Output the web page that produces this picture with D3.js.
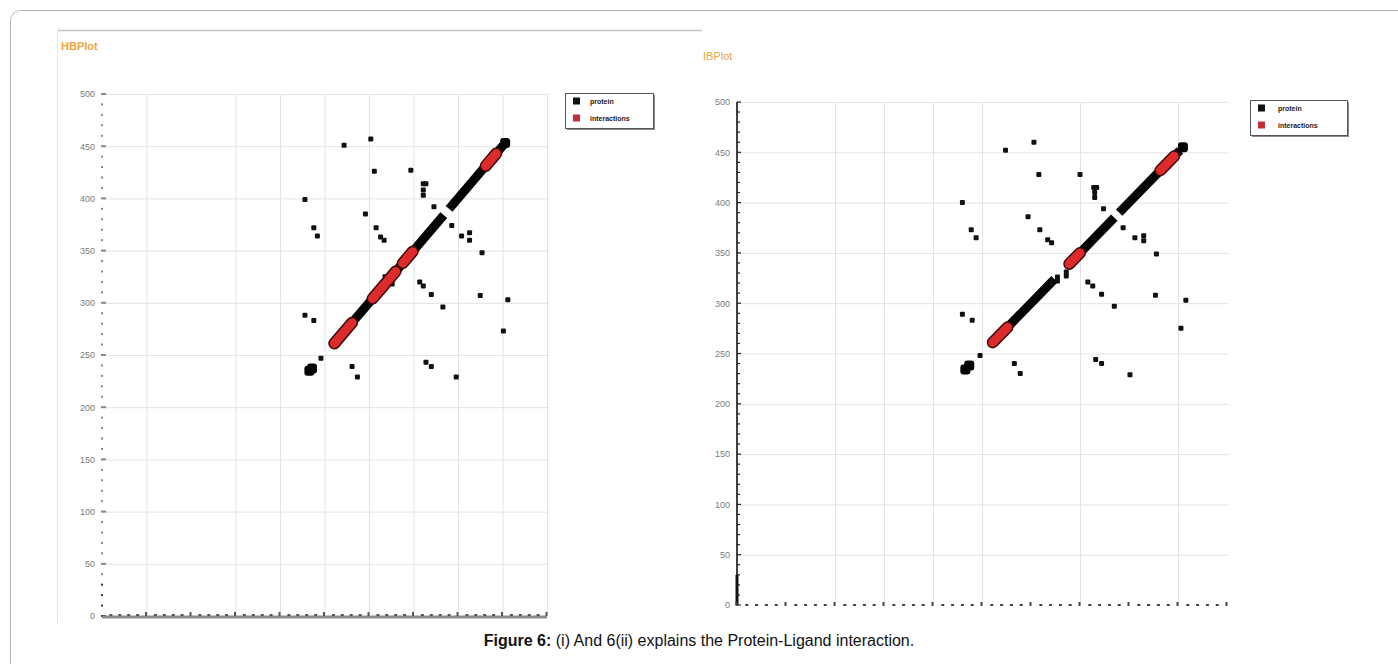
<!DOCTYPE html>
<html>
<head>
<meta charset="utf-8">
<script src="https://cdn.jsdelivr.net/npm/d3@7"></script>
<style>
  body { margin: 0; background: #fff; }
</style>
</head>
<body>
<div id="fig"></div>
<script>
// tick labels shared by both plots (no labels on x)
const tickValues = [0, 50, 100, 150, 200, 250, 300, 350, 400, 450, 500];
const seriesNames = ['protein', 'interactions'];

// HBPlot (left): off-diagonal contacts [residue i, residue j]
const hbProtein = [[272,451],[302,457],[306,426],[347,427],[361,414],[364,414],[361,408],[361,403],
  [228,399],[373,392],[296,385],[308,372],[238,372],[242,364],[313,363],[317,360],[393,374],
  [404,364],[413,367],[413,360],[427,348],[357,320],[361,316],[370,308],[425,307],[456,303],
  [383,296],[228,288],[238,283],[451,273],[246,247],[281,239],[287,229],[364,243],[370,239],[398,229],
  [318,325],[326,318]];
const hbBlobs = [[233,235],[236,237],[453,453]];
const hbDiagonal = [[259,319],[323,384],[390,451]];
const hbInteractions = [[261,281],[304,318],[321,330],[338,349],[431,443]];
const hbGridX = [50, 150, 200, 250, 300, 350, 400, 450, 500];

// IBPlot (right)
const ibProtein = [[274,452],[303,460],[308,428],[350,428],[364,415],[367,415],[365,410],[365,405],
  [230,400],[374,394],[297,386],[309,373],[239,373],[244,365],[317,363],[321,360],[394,375],
  [406,365],[415,367],[415,362],[428,349],[358,321],[363,317],[372,309],[427,308],[458,303],
  [385,297],[230,289],[240,283],[453,275],[248,248],[283,240],[289,230],[366,244],[372,240],[401,229],
  [321,320],[327,322],[327,326],[336,327],[336,331]];
const ibBlobs = [[233,234],[237,238],[455,455]];
const ibDiagonal = [[259,324],[337,385],[390,452]];
const ibInteractions = [[261,276],[339,350],[432,446]];
const ibGridX = [100, 150, 200, 250, 350, 450];

const W = 1398, H = 664;
const svg = d3.select('#fig').append('svg')
  .attr('width', W).attr('height', H)
  .style('font-family', 'Arial, "Liberation Sans", sans-serif');

// outer page frame
svg.append('rect')
  .attr('x', 10.5).attr('y', 10.5).attr('width', 1420).attr('height', 700)
  .attr('rx', 10).attr('fill', 'none').attr('stroke', '#b5b5b5');

// left screenshot border
svg.append('line').attr('x1', 57).attr('x2', 702).attr('y1', 30.5).attr('y2', 30.5)
  .attr('stroke', '#c4c4c4').attr('stroke-width', 1.5);
svg.append('line').attr('x1', 57.5).attr('x2', 57.5).attr('y1', 30).attr('y2', 623)
  .attr('stroke', '#e6e6e6');

const drawPlot = (o) => {
  let x = d3.scaleLinear().domain([0, 500]).range(o.xr);
  let y = d3.scaleLinear().domain([0, 500]).range(o.yr);
  let g = svg.append('g');

  // title
  g.append('text').attr('x', o.title[1]).attr('y', o.title[2])
    .attr('font-size', 11).attr('font-weight', o.titleBold ? 'bold' : 'normal')
    .attr('fill', '#eda43a').text(o.title[0]);

  // grid
  g.selectAll('.hg').data(tickValues.slice(1)).join('line')
    .attr('x1', x(0)).attr('x2', x(500) + 2)
    .attr('y1', (d) => y(d) + 0.5).attr('y2', (d) => y(d) + 0.5)
    .attr('stroke', '#e3e3e3');
  g.selectAll('.vg').data(o.gridX).join('line')
    .attr('x1', (d) => x(d) + 0.5).attr('x2', (d) => x(d) + 0.5)
    .attr('y1', y(500)).attr('y2', y(0))
    .attr('stroke', '#e3e3e3');

  // y labels
  let ax = g.append('g').attr('transform', `translate(${x(0)},0)`)
    .call(d3.axisLeft(y).tickValues(tickValues).tickSize(0).tickPadding(7).tickFormat(d3.format('d')));
  ax.select('.domain').remove();
  ax.selectAll('text').attr('font-size', 9).attr('fill', '#7a7a7a').attr('font-family', 'Arial, sans-serif');

  let minor = d3.range(0, 501, 10);
  if (o.solidY) {
    g.append('line').attr('x1', x(0)).attr('x2', x(0)).attr('y1', y(0)).attr('y2', y(500))
      .attr('stroke', '#111').attr('stroke-width', 1.6);
    g.append('line').attr('x1', x(0)).attr('x2', x(0)).attr('y1', y(0)).attr('y2', y(30))
      .attr('stroke', '#111').attr('stroke-width', 3);
    g.selectAll('.yt').data(minor).join('line')
      .attr('x1', x(0)).attr('x2', (d) => x(0) + (d % 50 ? 3 : 4))
      .attr('y1', (d) => y(d)).attr('y2', (d) => y(d))
      .attr('stroke', '#222').attr('stroke-width', 1.2);
    // dotted x axis
    g.selectAll('.xt').data(minor).join('rect')
      .attr('x', (d) => x(d) - 1.5).attr('y', (d) => y(0) - (d % 50 ? 1 : 3))
      .attr('width', (d) => (d % 50 ? 3 : 2)).attr('height', (d) => (d % 50 ? 2 : 4))
      .attr('fill', '#444');
  } else {
    g.selectAll('.yt').data(minor).join('rect')
      .attr('x', x(0) - 1).attr('y', (d) => y(d) - 1)
      .attr('width', (d) => (d % 50 ? 2 : 5)).attr('height', 2)
      .attr('fill', (d) => (d <= 30 ? '#333' : '#888'));
    g.append('line').attr('x1', x(0)).attr('x2', x(500)).attr('y1', y(0) + 1).attr('y2', y(0) + 1)
      .attr('stroke', '#8c8c8c').attr('stroke-width', 3);
    g.selectAll('.xt').data(minor.slice(1)).join('rect')
      .attr('x', (d) => x(d) - 1.5).attr('y', (d) => y(0) - (d % 50 ? 2 : 4))
      .attr('width', (d) => (d % 50 ? 3 : 2)).attr('height', (d) => (d % 50 ? 2 : 4))
      .attr('fill', '#555');
  }

  // diagonal band of protein contacts
  g.selectAll('.band').data(o.diagonal).join('line')
    .attr('x1', (d) => x(d[0])).attr('y1', (d) => y(d[0]))
    .attr('x2', (d) => x(d[1])).attr('y2', (d) => y(d[1]))
    .attr('stroke', '#050505').attr('stroke-width', 9).attr('stroke-linecap', 'butt');

  // off-diagonal protein points
  g.selectAll('.pt').data(o.protein).join('rect')
    .attr('x', (d) => x(d[0]) - 2.5).attr('y', (d) => y(d[1]) - 2.5)
    .attr('width', 5).attr('height', 5).attr('rx', 1)
    .attr('fill', '#111');
  g.selectAll('.blob').data(o.blobs).join('rect')
    .attr('x', (d) => x(d[0]) - 5).attr('y', (d) => y(d[1]) - 5)
    .attr('width', 10).attr('height', 10).attr('rx', 3)
    .attr('fill', '#050505');

  // interactions (red diamonds along the diagonal)
  g.selectAll('.io').data(o.interactions).join('line')
    .attr('x1', (d) => x(d[0])).attr('y1', (d) => y(d[0]))
    .attr('x2', (d) => x(d[1])).attr('y2', (d) => y(d[1]))
    .attr('stroke', '#3a0a0a').attr('stroke-width', 12).attr('stroke-linecap', 'round');
  g.selectAll('.ir').data(o.interactions).join('line')
    .attr('x1', (d) => x(d[0])).attr('y1', (d) => y(d[0]))
    .attr('x2', (d) => x(d[1])).attr('y2', (d) => y(d[1]))
    .attr('stroke', '#dd2a2a').attr('stroke-width', 9).attr('stroke-linecap', 'round');

  // legend
  let [lx, ly, lw, lh] = o.legend;
  let lg = g.append('g').attr('transform', `translate(${lx},${ly})`);
  lg.append('rect').attr('x', 2).attr('y', 2).attr('width', lw).attr('height', lh).attr('fill', '#8a8a8a');
  lg.append('rect').attr('x', 0.5).attr('y', 0.5).attr('width', lw).attr('height', lh)
    .attr('fill', '#fff').attr('stroke', '#555');
  lg.selectAll('.li').data(seriesNames).join('g')
    .attr('transform', (d, i) => `translate(8,${8 + i * 17})`)
    .each(function (d, i) {
      d3.select(this).append('rect').attr('x', 0).attr('y', -3.5).attr('width', 7).attr('height', 7)
        .attr('fill', i ? '#c0303a' : '#111');
      d3.select(this).append('text').attr('x', o.legendText).attr('y', 2.5)
        .attr('font-size', 7).attr('font-weight', 'bold').attr('fill', '#222').text(d);
    });
};

drawPlot({
  title: ['HBPlot', 61, 50], titleBold: true,
  xr: [102, 547], yr: [616, 94],
  gridX: hbGridX, protein: hbProtein, blobs: hbBlobs,
  diagonal: hbDiagonal, interactions: hbInteractions,
  legend: [565, 93, 88, 35], legendText: 17
});

drawPlot({
  title: ['IBPlot', 703, 60], titleBold: false,
  xr: [737, 1227], yr: [605, 102], solidY: true,
  gridX: ibGridX, protein: ibProtein, blobs: ibBlobs,
  diagonal: ibDiagonal, interactions: ibInteractions,
  legend: [1250, 100, 97, 35], legendText: 20
});

// caption
let cap = svg.append('text').attr('x', 699).attr('y', 646)
  .attr('text-anchor', 'middle').attr('font-size', 16).attr('fill', '#111');
cap.append('tspan').attr('font-weight', 'bold').text('Figure 6:');
cap.append('tspan').text(' (i) And 6(ii) explains the Protein-Ligand interaction.');
</script>
</body>
</html>
